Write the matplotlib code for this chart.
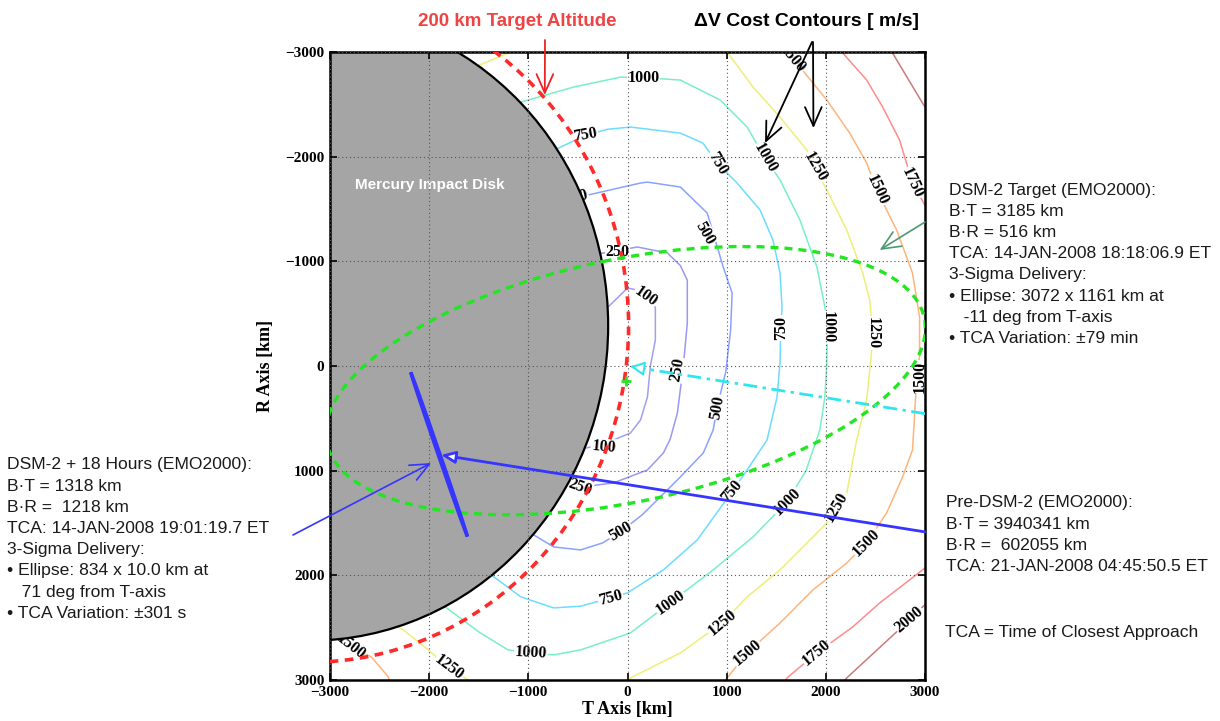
import matplotlib
matplotlib.use("Agg")
import matplotlib.pyplot as plt
from matplotlib.patches import Circle, Ellipse

FIG_W, FIG_H = 1220, 721

SANS = "Liberation Sans"
SERIF = "Liberation Serif"

# B-plane frame in km, relative to the DSM-2 aim point
DISK_CENTER = (-3204, -385)
DISK_RADIUS = 3009
ALT200_RADIUS = 3215

TARGET_CENTER = (-20, 140)
TARGET_SEMI_AXES = (3072, 1161)
TARGET_ANGLE = -11

POST_CENTER = (-1900, 845)
POST_SEMI_AXES = (834, 10.0)
POST_ANGLE = 70

PRE_DSM2_START = (3000, 1585)
PRE_DSM2_END = (-1880, 850)
AIM_LINE_START = (3000, 455)
AIM_POINT = (0, 0)

# Delta-V cost contours [m/s], one list of polylines per level
DV100 = [[(-450, -450), (-200, -560), (0, -745), (130, -720), (281, -560), (281, -250),
          (231, 0), (201, 296), (131, 516), (30, 640), (-141, 707), (-372, 774), (-600, 820)]]
DV250 = [[(-450, -1060), (-241, -1080), (100, -1137), (402, -1080), (533, -960), (603, -820),
          (603, -411), (563, 0), (503, 449), (430, 700), (362, 831), (201, 993), (-141, 1117),
          (-472, 1156), (-750, 1170)]]
DV500 = [[(-750, -1540), (-402, -1633), (131, -1748), (201, -1757), (533, -1710), (804, -1461),
          (965, -946), (1055, -697), (1040, -344), (990, 60), (905, 392), (864, 611), (764, 831),
          (533, 1060), (300, 1280), (150, 1420), (-70, 1585), (-250, 1690), (-472, 1757),
          (-744, 1729), (-945, 1614), (-1200, 1480)]]
DV750 = [[(-900, -2000), (-673, -2092), (-422, -2206), (-200, -2262), (30, -2283), (533, -2225),
          (760, -2130), (905, -1939), (1105, -1748), (1337, -1490), (1467, -1203), (1538, -888),
          (1558, -564), (1545, -363), (1538, -29), (1508, 296), (1407, 707), (1206, 993),
          (1055, 1200), (703, 1662), (362, 1948), (0, 2168), (-171, 2215), (-472, 2295),
          (-744, 2311), (-1075, 2206), (-1347, 2015), (-1600, 1850)]]
DV1000 = [[(-1300, -2420), (-1075, -2521), (-543, -2665), (-70, -2760), (161, -2755), (533, -2732),
           (935, -2541), (1206, -2283), (1387, -1987), (1538, -1777), (1739, -1394), (1910, -946),
           (1990, -564), (2015, -372), (2010, -29), (1990, 296), (1940, 611), (1800, 1000),
           (1608, 1299), (1266, 1633), (864, 1948), (432, 2260), (30, 2550), (-472, 2712),
           (-744, 2760), (-975, 2745), (-1206, 2712), (-1500, 2540), (-1840, 2300), (-2000, 2150)]]
DV1250 = [[(-1700, -2760), (-1497, -2875), (-1176, -3000), (-1100, -3050)],
          [(1005, -3000), (1266, -2665), (1538, -2378), (1809, -2063), (1889, -1900), (2010, -1681),
           (2211, -1299), (2372, -888), (2442, -630), (2472, -315), (2470, -220), (2412, 325),
           (2311, 707), (2211, 1213), (2110, 1347), (2010, 1500), (1538, 1948), (1206, 2206),
           (955, 2455), (533, 2741), (30, 2980), (-30, 3050)],
          [(-2450, 2420), (-2261, 2521), (-2010, 2712), (-1799, 2884), (-1608, 3000), (-1550, 3050)]]
DV1500 = [[(1600, -3050), (1739, -2856), (2010, -2541), (2241, -2225), (2412, -1939), (2513, -1681),
           (2714, -1299), (2874, -888), (2945, -468), (2945, -100), (2914, 162), (2874, 802),
           (2774, 1060), (2613, 1404), (2412, 1690), (2211, 1882), (1869, 2140), (1538, 2455),
           (1206, 2741), (1005, 2980), (950, 3050)],
          [(-3050, 2560), (-2790, 2680), (-2583, 2779), (-2412, 2970), (-2390, 3050)]]
DV1750 = [[(2100, -3050), (2171, -2990), (2412, -2732), (2573, -2474), (2744, -2158), (2874, -1748),
           (3050, -1450)],
          [(1560, 3050), (1608, 2980), (1910, 2741), (2271, 2493), (2543, 2264), (2975, 1948),
           (3050, 1890)]]
DV2000 = [[(2600, -3060), (2673, -2990), (2975, -2512), (3050, -2400)],
          [(2150, 3050), (2211, 2980), (2844, 2426), (2975, 2302), (3050, 2240)]]

LEVELS = [100, 250, 500, 750, 1000, 1250, 1500, 1750, 2000]
LEVEL_LINES = [DV100, DV250, DV500, DV750, DV1000, DV1250, DV1500, DV1750, DV2000]
LEVEL_COLORS = ["#a09ff0", "#9a98f2", "#8aa2ff", "#6cdcff", "#78f0c4",
                "#eeee78", "#ffb47a", "#ff8c8c", "#cc7a7a"]

# inline contour labels: value, T, R, rotation
DV_LABELS = [
    (100, -241, 774, -5), (100, 181, -659, -35),
    (250, -100, -1090, 0), (250, 503, 38, 80), (250, -480, 1160, -20),
    (500, -520, -1615, 13), (500, 784, -1270, -60), (500, 905, 392, 80), (500, -70, 1585, 30),
    (750, -422, -2206, 10), (750, 905, -1939, -60), (750, 1545, -363, 90),
    (750, 1055, 1200, 50), (750, -171, 2215, 15),
    (1000, 161, -2755, 0), (1000, 1387, -1987, -60), (1000, 2015, -372, -90),
    (1000, 1608, 1299, 45), (1000, 432, 2260, 35), (1000, -975, 2745, -3),
    (1250, 1889, -1900, -60), (1250, 2472, -315, -90), (1250, 2110, 1347, 60),
    (1250, 955, 2455, 40), (1250, -1799, 2884, -37),
    (1500, 1660, -2940, -50), (1500, 2513, -1681, -65), (1500, 2950, 100, 90),
    (1500, 2412, 1690, 45), (1500, 1206, 2741, 40), (1500, -2790, 2680, -38),
    (1750, 2874, -1748, -65), (1750, 1910, 2741, 40),
    (2000, 2844, 2426, 40),
]

TICKS = [-3000, -2000, -1000, 0, 1000, 2000, 3000]

TARGET_TEXT = ["DSM-2 Target (EMO2000):", "B\u00b7T = 3185 km", "B\u00b7R = 516 km",
               "TCA: 14-JAN-2008 18:18:06.9 ET", "3-Sigma Delivery:",
               "\u2022 Ellipse: 3072 x 1161 km at", "   -11 deg from T-axis",
               "\u2022 TCA Variation: \u00b179 min"]
POST_TEXT = ["DSM-2 + 18 Hours (EMO2000):", "B\u00b7T = 1318 km", "B\u00b7R =  1218 km",
             "TCA: 14-JAN-2008 19:01:19.7 ET", "3-Sigma Delivery:",
             "\u2022 Ellipse: 834 x 10.0 km at", "   71 deg from T-axis",
             "\u2022 TCA Variation: \u00b1301 s"]
PRE_TEXT = ["Pre-DSM-2 (EMO2000):", "B\u00b7T = 3940341 km", "B\u00b7R =  602055 km",
            "TCA: 21-JAN-2008 04:45:50.5 ET"]

TEXT_SIZE = 12.6


def fxy(px, py):
    return px / FIG_W, 1 - py / FIG_H


def text_block(fig, lines, px, py, step=21.2):
    for i, line in enumerate(lines):
        fig.text(*fxy(px, py + i * step), line, family=SANS, fontsize=TEXT_SIZE,
                 color="#1a1a1a", ha="left", va="center")


fig = plt.figure(figsize=(FIG_W / 100, FIG_H / 100), dpi=100)
ax = fig.add_axes([330 / FIG_W, 1 - 680 / FIG_H, 595 / FIG_W, 628 / FIG_H])
ax.set_xlim(-3000, 3000)
ax.set_ylim(3000, -3000)

# contours and their labels sit under the impact disk
for level, segs, color in zip(LEVELS, LEVEL_LINES, LEVEL_COLORS):
    for seg in segs:
        ax.plot([p[0] for p in seg], [p[1] for p in seg], color=color, lw=1.1, zorder=1)
for value, t, r, rot in DV_LABELS:
    ax.text(t, r, str(value), family=SERIF, fontweight="bold", fontsize=11.5,
            rotation=rot, rotation_mode="anchor", ha="center", va="center", zorder=1.5,
            clip_on=True,
            bbox=dict(boxstyle="square,pad=0.05", fc="white", ec="none"))

ax.add_patch(Circle(DISK_CENTER, DISK_RADIUS, fc="#a5a5a5", ec="black", lw=1.6, zorder=2))
ax.text(-1990, -1730, "Mercury Impact Disk", family=SANS, fontweight="bold", fontsize=11,
        color="white", ha="center", va="center", zorder=2.2)

ax.add_patch(Circle(DISK_CENTER, ALT200_RADIUS, fc="none", ec="#ff2a2a", lw=2.6,
                    ls=(0, (2.4, 1.8)), zorder=3))
ax.add_patch(Ellipse(TARGET_CENTER, 2 * TARGET_SEMI_AXES[0], 2 * TARGET_SEMI_AXES[1],
                     angle=TARGET_ANGLE, fc="none", ec="#22e622", lw=2.4,
                     ls=(0, (2.4, 1.8)), zorder=3))
ax.plot(*TARGET_CENTER, marker="+", color="#22e622", ms=7, mew=2, zorder=3)

# post-DSM delivery ellipse (very thin, drawn as a bar)
ax.add_patch(Ellipse(POST_CENTER, 2 * POST_SEMI_AXES[0], 2 * POST_SEMI_AXES[1],
                     angle=POST_ANGLE, fc="#3535ff", ec="#3535ff", lw=2.4, zorder=4))

# mapping arrows
ax.plot([AIM_LINE_START[0], AIM_POINT[0]], [AIM_LINE_START[1], AIM_POINT[1]],
        color="#2ee6f0", lw=2, ls=(0, (5, 2, 1.2, 2)), zorder=4)
ax.annotate("", xy=AIM_POINT, xytext=(200, 30),
            arrowprops=dict(arrowstyle="-|>,head_length=0.7,head_width=0.35",
                            fc="white", ec="#2ee6f0", lw=1.5, mutation_scale=12), zorder=4)
ax.annotate("", xy=PRE_DSM2_END, xytext=PRE_DSM2_START,
            arrowprops=dict(arrowstyle="-|>,head_length=0.7,head_width=0.3",
                            fc="white", ec="#3535ff", lw=2, mutation_scale=12,
                            shrinkA=0, shrinkB=0), zorder=4)

ax.set_xticks(TICKS)
ax.set_yticks(TICKS)
ax.set_xticklabels([f"{v:d}".replace("-", "\u2212") for v in TICKS])
ax.set_yticklabels([f"{v:d}".replace("-", "\u2212") for v in TICKS])
for lbl in ax.get_xticklabels() + ax.get_yticklabels():
    lbl.set_fontfamily(SERIF)
    lbl.set_fontweight("bold")
    lbl.set_fontsize(11)
ax.tick_params(direction="in", top=True, right=True, length=5, width=1.2, pad=4)
ax.grid(True, ls=(0, (1, 2.5)), color="#555555", lw=0.8)
ax.set_axisbelow(False)
for sp in ax.spines.values():
    sp.set_linewidth(1.8)

ax.set_xlabel("T Axis [km]", family=SERIF, fontweight="bold", fontsize=13, labelpad=2)
ax.set_ylabel("R Axis [km]", family=SERIF, fontweight="bold", fontsize=13, labelpad=8)

# headings and callouts around the axes
fig.text(*fxy(517, 22), "200 km Target Altitude", family=SANS, fontweight="bold",
         fontsize=13.5, color="#ef4444", ha="center", va="center")
fig.text(*fxy(807, 21), "\u0394V Cost Contours [ m/s]", family=SANS, fontweight="bold",
         fontsize=14, color="black", ha="center", va="center")

arrow_head = "->,head_length=0.9,head_width=0.4"
ax.annotate("", xy=(-834, -2588), xytext=fxy(545, 40), textcoords="figure fraction",
            arrowprops=dict(arrowstyle=arrow_head, color="#ee2222", lw=1.3,
                            mutation_scale=15, shrinkA=0, shrinkB=0),
            annotation_clip=False, zorder=5)
ax.annotate("", xy=(1387, -2130), xytext=fxy(812, 42), textcoords="figure fraction",
            arrowprops=dict(arrowstyle=arrow_head, color="black", lw=1.3,
                            mutation_scale=15, shrinkA=0, shrinkB=0),
            annotation_clip=False, zorder=5)
ax.annotate("", xy=(1875, -2273), xytext=fxy(813, 42), textcoords="figure fraction",
            arrowprops=dict(arrowstyle=arrow_head, color="black", lw=1.3,
                            mutation_scale=15, shrinkA=0, shrinkB=0),
            annotation_clip=False, zorder=5)
ax.annotate("", xy=(2543, -1108), xytext=fxy(925, 222), textcoords="figure fraction",
            arrowprops=dict(arrowstyle=arrow_head, color="#4a9a72", lw=1.2,
                            mutation_scale=15, shrinkA=0, shrinkB=0),
            annotation_clip=False, zorder=5)
ax.annotate("", xy=(-1980, 927), xytext=fxy(293, 535), textcoords="figure fraction",
            arrowprops=dict(arrowstyle=arrow_head, color="#3535ff", lw=1.2,
                            mutation_scale=15, shrinkA=0, shrinkB=0),
            annotation_clip=False, zorder=5)

text_block(fig, TARGET_TEXT, 949, 190)
text_block(fig, POST_TEXT, 7, 465)
text_block(fig, PRE_TEXT, 946, 503)
fig.text(*fxy(945, 633), "TCA = Time of Closest Approach", family=SANS, fontsize=TEXT_SIZE,
         color="#1a1a1a", ha="left", va="center")

fig.savefig("out.png", dpi=100)
